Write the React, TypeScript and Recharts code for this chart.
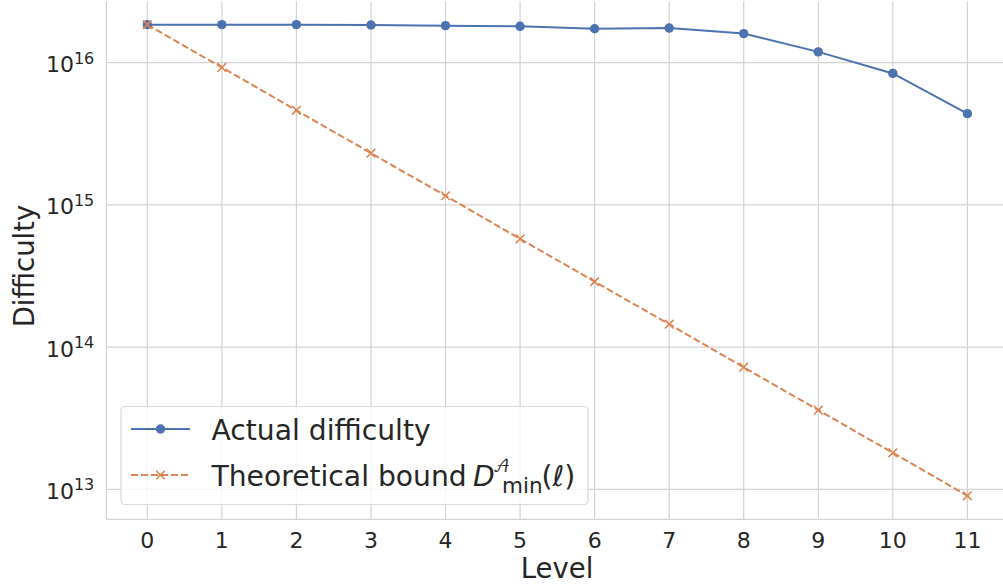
import React from "react";
import { LineChart, Line, XAxis, YAxis, CartesianGrid } from "recharts";

const levels = [0, 1, 2, 3, 4, 5, 6, 7, 8, 9, 10, 11];
const actualDifficulty = [
  1.85e16, 1.85e16, 1.85e16, 1.84e16, 1.82e16, 1.8e16, 1.73e16, 1.75e16, 1.6e16, 1.19e16, 8.4e15, 4.38e15,
];
const theoreticalBound = [
  1.85e16, 9.25e15, 4.62e15, 2.31e15, 1.16e15, 5.78e14, 2.89e14, 1.45e14, 7.23e13, 3.61e13, 1.81e13, 9.03e12,
];
const yTicks = [1e13, 1e14, 1e15, 1e16];

const data = levels.map((level, i) => ({
  level,
  actual: actualDifficulty[i],
  bound: theoreticalBound[i],
}));

const BLUE = "#4c72b0";
const ORANGE = "#dd8452";
const GRID = "#d3d3d3";
const TEXT = "#262626";
const FONT = "'DejaVu Sans', sans-serif";

const YTick = (props: any) => {
  const { x, y, payload } = props;
  const exp = Math.round(Math.log10(payload.value));
  return (
    <text x={x} y={y + 9.5} textAnchor="end" fill={TEXT} fontFamily={FONT} fontSize={22}>
      <tspan>10</tspan>
      <tspan dy={-8.5} fontSize={16}>{exp}</tspan>
    </text>
  );
};

const CrossDot = (props: any) => {
  const { cx, cy, key } = props;
  if (cx == null || cy == null) return null;
  const s = 4.3;
  return (
    <path
      key={key}
      d={`M${cx - s},${cy - s}L${cx + s},${cy + s}M${cx - s},${cy + s}L${cx + s},${cy - s}`}
      stroke={ORANGE}
      strokeWidth={1.6}
      fill="none"
    />
  );
};

function LegendBox() {
  return (
    <svg
      width={1003}
      height={586}
      style={{ position: "absolute", left: 0, top: 0, pointerEvents: "none" }}
      fontFamily={FONT}
    >
      <rect x={121} y={406.5} width={467} height={98} rx={4} fill="#ffffff" fillOpacity={0.8} stroke="#d9d9d9" strokeWidth={1.2} />
      <line x1={131} x2={190} y1={429} y2={429} stroke={BLUE} strokeWidth={2} />
      <circle cx={160.5} cy={429} r={4.7} fill={BLUE} />
      <text x={211.5} y={440} fontSize={28.2} fill={TEXT}>Actual difficulty</text>
      <line x1={131} x2={190} y1={475} y2={475} stroke={ORANGE} strokeWidth={2} strokeDasharray="7 3" />
      <CrossDot cx={160.5} cy={475} />
      <text x={211.5} y={485.5} fontSize={28.2} fill={TEXT}>Theoretical bound</text>
      <text x={473} y={485.5} fontSize={28.2} fill={TEXT} fontStyle="italic">D</text>
      <text x={493} y={472} fontSize={16} fill={TEXT} fontFamily="'DejaVu Math TeX Gyre', 'DejaVu Sans', serif">𝒜</text>
      <text x={502} y={493} fontSize={21.5} fill={TEXT}>min</text>
      <text x={541.5} y={485.5} fontSize={28.2} fill={TEXT}>(ℓ)</text>
    </svg>
  );
}

export default function App() {
  return (
    <div style={{ position: "absolute", left: 0, top: 0, width: 1003, height: 586, overflow: "hidden", background: "#fff" }}>
      <LineChart
        width={1010}
        height={586}
        data={data}
        margin={{ top: 1.5, right: 1.6, left: 6.3, bottom: 26.7 }}
      >
        <CartesianGrid stroke={GRID} strokeWidth={1.2} horizontalValues={yTicks} verticalValues={levels} />
        <XAxis
          dataKey="level"
          type="number"
          domain={[-0.55, 11.55]}
          ticks={levels}
          allowDataOverflow
          height={40}
          tickSize={0}
          tickMargin={13}
          tick={{ fill: TEXT, fontSize: 22, fontFamily: FONT }}
          axisLine={{ stroke: GRID, strokeWidth: 1.3 }}
          tickLine={false}
          label={(p: any) => (
            <text x={557} y={578.3} textAnchor="middle" fill={TEXT} fontSize={27.5} fontFamily={FONT}>
              Level
            </text>
          )}
        />
        <XAxis
          xAxisId="top"
          orientation="top"
          dataKey="level"
          type="number"
          domain={[-0.55, 11.55]}
          height={0}
          tick={false}
          tickLine={false}
          axisLine={{ stroke: GRID, strokeWidth: 1.3 }}
        />
        <YAxis
          type="number"
          scale="log"
          domain={[6.17e12, 2.69e16]}
          allowDataOverflow
          ticks={yTicks}
          width={100}
          tickSize={0}
          tickMargin={12}
          tick={<YTick />}
          axisLine={{ stroke: GRID, strokeWidth: 1.3 }}
          tickLine={false}
          label={(p: any) => (
            <text
              x={33.5}
              y={266}
              transform="rotate(-90, 33.5, 266)"
              textAnchor="middle"
              fill={TEXT}
              fontSize={27.5}
              fontFamily={FONT}
            >
              Difficulty
            </text>
          )}
        />
        <Line
          dataKey="actual"
          stroke={BLUE}
          strokeWidth={2}
          dot={{ r: 4.7, fill: BLUE, stroke: BLUE, strokeWidth: 0 }}
          isAnimationActive={false}
        />
        <Line
          dataKey="bound"
          stroke={ORANGE}
          strokeWidth={2}
          strokeDasharray="7 3"
          dot={(p: any) => <CrossDot key={p.key ?? p.index} cx={p.cx} cy={p.cy} />}
          isAnimationActive={false}
        />
      </LineChart>
      <LegendBox />
    </div>
  );
}
